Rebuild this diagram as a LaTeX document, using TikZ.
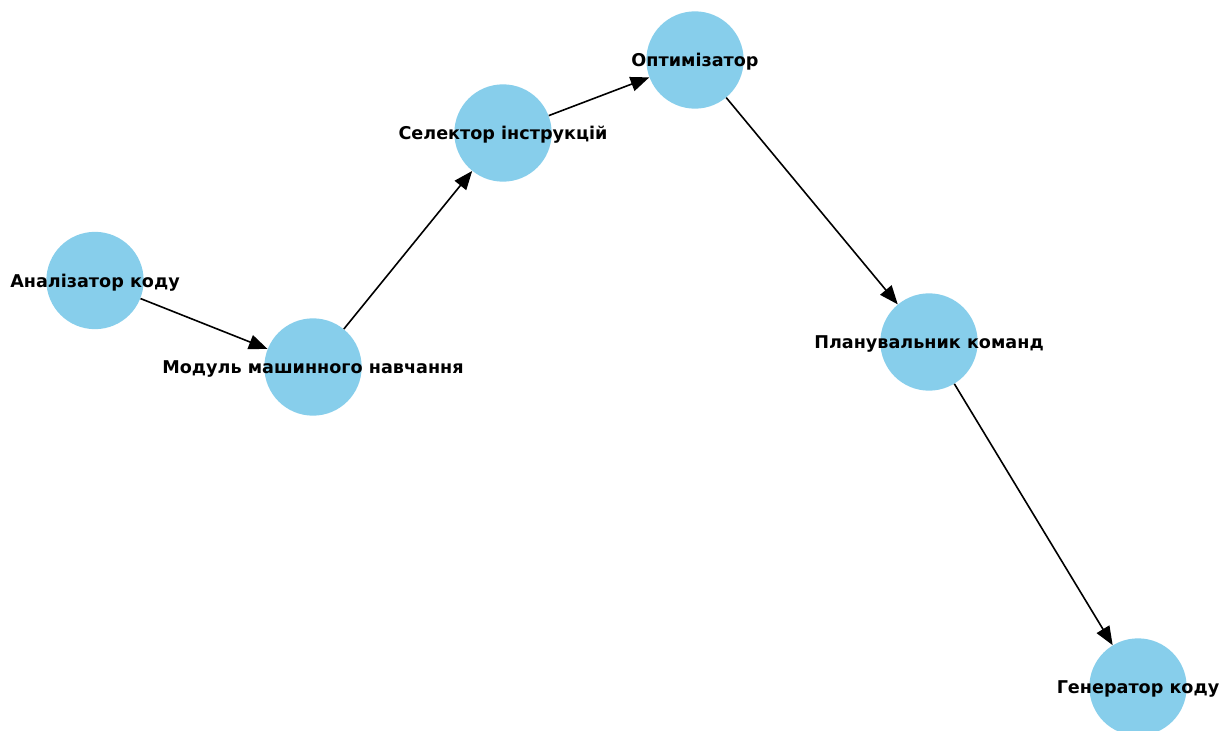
\documentclass[tikz,border=0pt]{standalone}
\usepackage{fontspec}
\setmainfont{DejaVu Sans}
\usepackage{tikz}
\usetikzlibrary{arrows.meta}
\definecolor{skyblue}{RGB}{135,206,235}
\tikzset {
vertex/.style={shape=circle,fill=skyblue,minimum size=73pt,inner sep=0pt},
caption/.style={font=\fontsize{13.2}{15}\selectfont\bfseries,inner sep=0pt,yshift=-1.5pt},
edge/.style={line width=1.2pt,-{Triangle[length=14pt,width=11pt]}}
}
\begin{document}
\begin{tikzpicture}
[x=0.75pt,y=-0.75pt]
\useasboundingbox (0,0) rectangle (1220,731);
\node[vertex] (analizator) at (95,280.5) {};
\node[vertex] (modul) at (313,367) {};
\node[vertex] (selektor) at (503,133) {};
\node[vertex] (optimizator) at (695,60) {};
\node[vertex] (planuvalnyk) at (929,342) {};
\node[vertex] (generator) at (1138,687) {};

\draw[edge] (analizator) to (modul);
\draw[edge] (modul) to (selektor);
\draw[edge] (selektor) to (optimizator);
\draw[edge] (optimizator) to (planuvalnyk);
\draw[edge] (planuvalnyk) to (generator);

\node[caption] (analizator text) at (analizator) {Аналізатор коду};
\node[caption] (modul text) at (modul) {Модуль машинного навчання};
\node[caption] (selektor text) at (selektor) {Селектор інструкцій};
\node[caption] (optimizator text) at (optimizator) {Оптимізатор};
\node[caption] (planuvalnyk text) at (planuvalnyk) {Планувальник команд};
\node[caption] (generator text) at (generator) {Генератор коду};
\end{tikzpicture}
\end{document}
